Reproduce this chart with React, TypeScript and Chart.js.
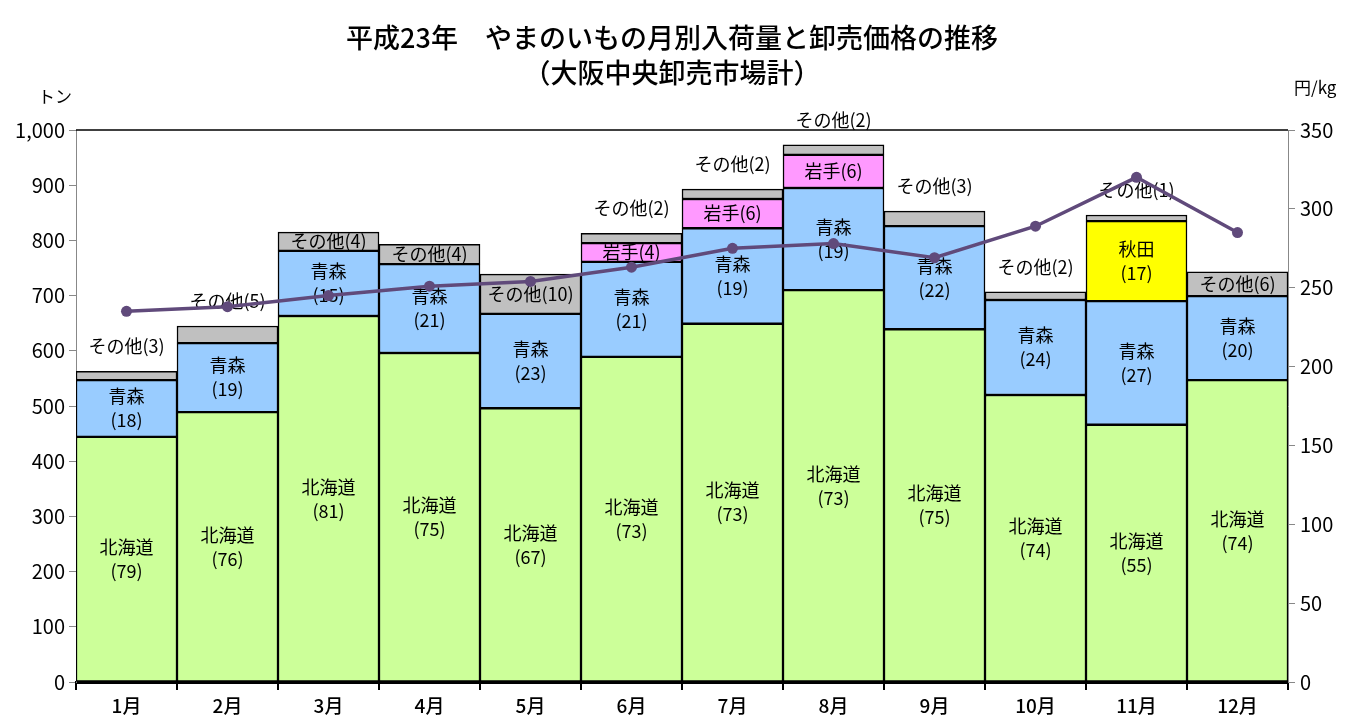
import React, { useEffect, useRef } from "react";
import { Chart, registerables } from "chart.js";

Chart.register(...registerables);

const months = ["1月", "2月", "3月", "4月", "5月", "6月", "7月", "8月", "9月", "10月", "11月", "12月"];
const hokkaido = [444, 489, 663, 596, 496, 589, 649, 710, 639, 520, 466, 547];
const aomori = [103, 125, 118, 161, 171, 172, 173, 185, 187, 172, 224, 152];
const iwate = [null, null, null, null, null, 34, 53, 60, null, null, null, null];
const akita = [null, null, null, null, null, null, null, null, null, null, 145, null];
const other = [16, 31, 34, 36, 72, 18, 18, 18, 27, 15, 11, 44];
const price = [235, 238, 245, 251, 254, 263, 275, 278, 269, 289, 320, 285];

const hokkaidoShare = [79, 76, 81, 75, 67, 73, 73, 73, 75, 74, 55, 74];
const aomoriShare = [18, 19, 15, 21, 23, 21, 19, 19, 22, 24, 27, 20];
const iwateShare = [null, null, null, null, null, 4, 6, 6, null, null, null, null];
const akitaShare = [null, null, null, null, null, null, null, null, null, null, 17, null];
const otherShare = [3, 5, 4, 4, 10, 2, 2, 2, 3, 2, 1, 6];
const otherOutside = [true, true, false, false, false, true, true, true, true, true, true, false];

const FONT = '"Noto Sans CJK JP", "Noto Sans", sans-serif';

export default function App() {
  const ref = useRef<HTMLCanvasElement | null>(null);

  useEffect(() => {
    if (!ref.current) return;

    const labelPlugin = {
      id: "segLabels",
      beforeDatasetDraw(chart: any, args: any) {
        if (chart.data.datasets[args.index].type !== "line") return;
        const ctx = chart.ctx;
        ctx.save();
        ctx.font = `18px ${FONT}`;
        ctx.fillStyle = "#000";
        ctx.textAlign = "center";
        ctx.textBaseline = "middle";
        const specs: [number, string, (number | null)[], boolean][] = [
          [0, "北海道", hokkaidoShare, true],
          [1, "青森", aomoriShare, true],
          [2, "岩手", iwateShare, false],
          [3, "秋田", akitaShare, true],
          [4, "その他", otherShare, false],
        ];
        specs.forEach(([di, name, shares, twoLine]) => {
          const meta = chart.getDatasetMeta(di);
          meta.data.forEach((bar: any, i: number) => {
            const s = shares[i];
            if (s == null) return;
            const p = bar.getProps(["x", "y", "base"], true);
            let cy = (p.y + p.base) / 2;
            if (di === 4 && otherOutside[i]) cy = p.y - 25;
            if (twoLine) {
              ctx.fillText(name, p.x, cy - 12);
              ctx.fillText(`(${s})`, p.x, cy + 12);
            } else {
              ctx.fillText(`${name}(${s})`, p.x, cy);
            }
          });
        });
        ctx.restore();
      },
    };

    const decoPlugin = {
      id: "deco",
      afterDraw(chart: any) {
        const ctx = chart.ctx;
        const a = chart.chartArea;
        ctx.save();
        ctx.strokeStyle = "#000";
        ctx.lineWidth = 1.5;
        ctx.beginPath();
        ctx.moveTo(a.left, a.top);
        ctx.lineTo(a.right, a.top);
        ctx.stroke();
        ctx.fillStyle = "#000";
        ctx.textAlign = "center";
        ctx.textBaseline = "middle";
        ctx.font = `500 27px ${FONT}`;
        ctx.fillText("平成23年　やまのいもの月別入荷量と卸売価格の推移", 672, 38);
        ctx.fillText("（大阪中央卸売市場計）", 672, 73);
        ctx.font = `17px ${FONT}`;
        ctx.textAlign = "left";
        ctx.fillText("トン", 38, 97);
        ctx.fillText("円/kg", 1294, 88);
        ctx.restore();
      },
    };

    const barBase = { type: "bar" as const, borderColor: "#000", borderWidth: 1.5, borderSkipped: false, barPercentage: 1, categoryPercentage: 1, yAxisID: "y", order: 1 };

    const chart = new Chart(ref.current, {
      type: "bar",
      data: {
        labels: months,
        datasets: [
          { ...barBase, label: "北海道", data: hokkaido, backgroundColor: "#CCFF99" },
          { ...barBase, label: "青森", data: aomori, backgroundColor: "#99CCFF" },
          { ...barBase, label: "岩手", data: iwate, backgroundColor: "#FF99FF" },
          { ...barBase, label: "秋田", data: akita, backgroundColor: "#FFFF00" },
          { ...barBase, label: "その他", data: other, backgroundColor: "#C0C0C0" },
          {
            type: "line",
            label: "価格",
            data: price,
            yAxisID: "y1",
            borderColor: "#604A7B",
            backgroundColor: "#604A7B",
            borderWidth: 3.5,
            pointRadius: 5.5,
            pointBorderWidth: 0,
            pointBackgroundColor: "#604A7B",
            order: 0,
          } as any,
        ],
      },
      options: {
        responsive: false,
        animation: false,
        layout: { padding: { top: 130, left: 0, right: 0, bottom: 0 } },
        plugins: { legend: { display: false }, tooltip: { enabled: false }, title: { display: false } },
        scales: {
          x: {
            stacked: true,
            afterFit: (s: any) => { s.height = 46; },
            grid: { drawOnChartArea: false, offset: true, tickLength: 8, color: "#000", lineWidth: 2 },
            border: { color: "#000", width: 3 },
            ticks: { color: "#000", font: { family: FONT, size: 19, weight: "500" }, padding: 4 },
          },
          y: {
            stacked: true,
            min: 0,
            max: 1000,
            afterFit: (s: any) => { s.width = 76; },
            grid: { drawOnChartArea: false, tickLength: 7, color: "#888" },
            border: { color: "#888", width: 1 },
            ticks: {
              stepSize: 100,
              color: "#000",
              font: { family: FONT, size: 20 },
              padding: 4,
              callback: (v: any) => Number(v).toLocaleString("en-US"),
            },
          },
          y1: {
            position: "right",
            min: 0,
            max: 350,
            afterFit: (s: any) => { s.width = 59; },
            grid: { drawOnChartArea: false, tickLength: 7, color: "#888" },
            border: { color: "#888", width: 1 },
            ticks: { stepSize: 50, color: "#000", font: { family: FONT, size: 20 }, padding: 5 },
          },
        },
      },
      plugins: [labelPlugin, decoPlugin],
    } as any);

    return () => chart.destroy();
  }, []);

  return (
    <div style={{ position: "fixed", left: 0, top: 0, width: 1347, height: 728, background: "#fff" }}>
      <canvas ref={ref} width={1347} height={728} style={{ width: 1347, height: 728 }} />
    </div>
  );
}
